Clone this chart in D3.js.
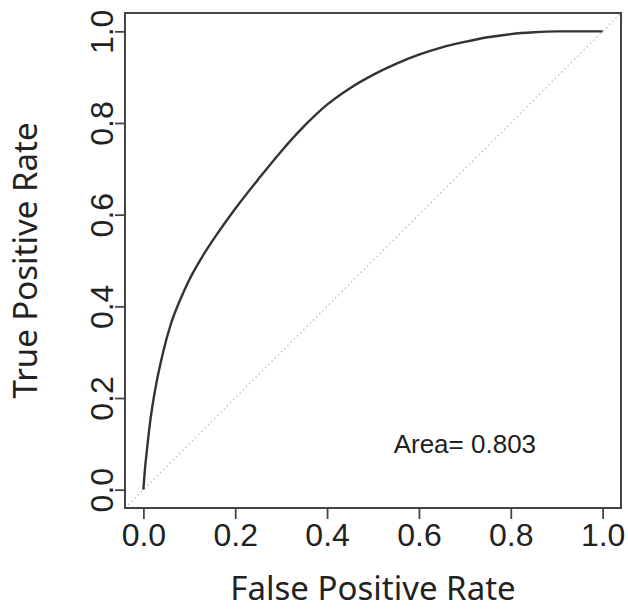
<!DOCTYPE html>
<html>
<head>
<meta charset="utf-8">
<script src="https://cdn.jsdelivr.net/npm/d3@7"></script>
<style>
  html, body { margin: 0; padding: 0; background: #fff; }
  svg { display: block; }
</style>
</head>
<body>
<svg id="chart"></svg>
<script>
// ROC curve
const fpr = [0, 0.003, 0.008, 0.015, 0.026, 0.043, 0.06, 0.08, 0.10, 0.128, 0.16, 0.2, 0.25, 0.3, 0.35, 0.4, 0.45, 0.5, 0.55, 0.6, 0.65, 0.7, 0.75, 0.8, 0.85, 0.9, 0.95, 1.0];
const tpr = [0, 0.04, 0.089, 0.15, 0.22, 0.300, 0.362, 0.414, 0.458, 0.508, 0.557, 0.613, 0.677, 0.738, 0.793, 0.84, 0.876, 0.905, 0.929, 0.949, 0.965, 0.977, 0.987, 0.994, 0.998, 1.0, 1.0, 1.0];
const tickValues = [0, 0.2, 0.4, 0.6, 0.8, 1.0];
const areaLabel = "Area= 0.803";
const xTitle = "False Positive Rate";
const yTitle = "True Positive Rate";

const width = 628, height = 609;
const box = { left: 125, right: 621, top: 13, bottom: 508 };

const svg = d3.select("#chart").attr("width", width).attr("height", height);

// R-style 4% padding around the data range
const x = d3.scaleLinear().domain([-0.04, 1.04]).range([box.left, box.right]);
const y = d3.scaleLinear().domain([-0.04, 1.04]).range([box.bottom, box.top]);

const tickFont = "'Liberation Sans', Arial, sans-serif";
const titleFont = "'Noto Sans', 'Open Sans', sans-serif";

svg.append("defs").append("clipPath").attr("id", "plot-clip")
  .append("rect")
  .attr("x", box.left).attr("y", box.top)
  .attr("width", box.right - box.left).attr("height", box.bottom - box.top);

// diagonal reference line across the whole box
svg.append("line")
  .attr("clip-path", "url(#plot-clip)")
  .attr("x1", x(-0.04)).attr("y1", y(-0.04))
  .attr("x2", x(1.04)).attr("y2", y(1.04))
  .attr("stroke", "#b8b8b8")
  .attr("stroke-width", 1.2)
  .attr("stroke-dasharray", "1.5,3");

const points = fpr.map((v, i) => [v, tpr[i]]);
svg.append("path")
  .datum(points)
  .attr("fill", "none")
  .attr("stroke", "#333")
  .attr("stroke-width", 2.4)
  .attr("stroke-linejoin", "round")
  .attr("d", d3.line().x((d) => x(d[0])).y((d) => y(d[1])).curve(d3.curveMonotoneX));

// axes
const xAxis = svg.append("g")
  .attr("transform", `translate(0,${box.bottom})`)
  .call(d3.axisBottom(x).tickValues(tickValues).tickFormat(d3.format(".1f")).tickSize(11).tickPadding(4));

const yAxis = svg.append("g")
  .attr("transform", `translate(${box.left},0)`)
  .call(d3.axisLeft(y).tickValues(tickValues).tickFormat(d3.format(".1f")).tickSize(10).tickPadding(0));

[xAxis, yAxis].forEach((g) => {
  g.select(".domain").remove();
  g.selectAll(".tick line").attr("stroke", "#444").attr("stroke-width", 1.8);
  g.selectAll(".tick text")
    .attr("fill", "#222")
    .style("font-family", tickFont)
    .style("font-size", "32px");
});

yAxis.selectAll(".tick text")
  .attr("x", null).attr("dy", null)
  .attr("text-anchor", "middle")
  .attr("transform", "translate(-24,0) rotate(-90)")
  .attr("dy", "0.36em");

// box
svg.append("rect")
  .attr("x", box.left).attr("y", box.top)
  .attr("width", box.right - box.left).attr("height", box.bottom - box.top)
  .attr("fill", "none")
  .attr("stroke", "#444")
  .attr("stroke-width", 2);

svg.append("text")
  .attr("x", x(0.7)).attr("y", y(0.1))
  .attr("dy", "0.36em")
  .attr("text-anchor", "middle")
  .attr("fill", "#222")
  .style("font-family", tickFont)
  .style("font-size", "26px")
  .text(areaLabel);

svg.append("text")
  .attr("x", (box.left + box.right) / 2).attr("y", 600)
  .attr("text-anchor", "middle")
  .attr("fill", "#222")
  .style("font-family", titleFont)
  .style("font-size", "33px")
  .text(xTitle);

svg.append("text")
  .attr("transform", `translate(37,${(box.top + box.bottom) / 2}) rotate(-90)`)
  .attr("text-anchor", "middle")
  .attr("fill", "#222")
  .style("font-family", titleFont)
  .style("font-size", "33px")
  .text(yTitle);
</script>
</body>
</html>
